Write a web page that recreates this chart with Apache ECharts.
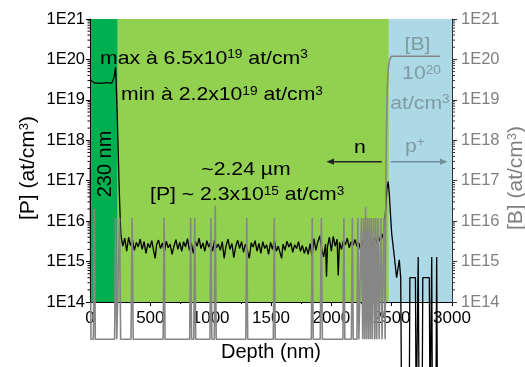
<!DOCTYPE html>
<html><head><meta charset="utf-8">
<script src="https://cdn.jsdelivr.net/npm/echarts@6/dist/echarts.min.js"></script>
<style>html,body{margin:0;padding:0;background:#fff}#c{width:525px;height:367px}</style>
</head><body><div id="c"></div>
<script>
const FONT = '"Liberation Sans", Arial, sans-serif';
const xTicks = [0, 500, 1000, 1500, 2000, 2500, 3000];
const yTickLabels = ['1E14','1E15','1E16','1E17','1E18','1E19','1E20','1E21'];
const regionStart = [0, 230, 2477];
const regionEnd = [230, 2477, 3000];
const regionColors = ['#00b050', '#92d050', '#add8e6'];

// [P] profile: [depth nm, at/cm3]
const pProfile = [
[0,3.2e19],[10,3.0e19],[20,2.85e19],[30,2.7e19],[40,2.6e19],[50,2.5e19],[60,2.6e19],[70,2.7e19],[80,2.55e19],[90,2.45e19],
[100,2.6e19],[110,2.8e19],[120,2.6e19],[130,2.5e19],[140,2.7e19],[150,2.8e19],[160,2.6e19],[170,2.7e19],[180,2.6e19],[190,2.9e19],
[198,3.5e19],[205,4.5e19],[212,6.5e19],[220,1.5e19],[226,4e18],[240,1e17],[250,1.2e16],
[256,4.6e15],[272,2.4e15],[288,3.8e15],[304,1.8e15],[320,4.0e15],[336,2.5e15],[352,3.4e15],[368,1.9e15],[384,3.0e15],[400,2.3e15],
[416,3.6e15],[432,2.0e15],[448,3.1e15],[464,1.6e15],[480,2.8e15],[496,2.2e15],[512,3.3e15],[528,1.8e15],[540,1.2e15],[552,2.6e15],
[568,3.4e15],[584,2.1e15],[600,2.9e15],[616,1.7e15],[632,3.2e15],[648,2.2e15],[664,2.7e15],[680,1.5e15],[696,2.4e15],[712,3.5e15],
[728,2.0e15],[744,3.0e15],[760,1.8e15],[776,3.1e15],[792,2.3e15],[808,3.7e15],[824,1.9e15],[840,2.8e15],[856,1.6e15],[872,3.2e15],
[888,2.4e15],[904,3.8e15],[920,2.1e15],[936,2.9e15],[952,1.8e15],[968,3.3e15],[984,2.3e15],[1000,3.0e15],[1016,1.8e15],[1032,3.4e15],
[1048,2.2e15],[1064,2.7e15],[1080,1.9e15],[1096,3.1e15],[1112,1.2e15],[1128,2.5e15],[1144,3.6e15],[1160,2.0e15],[1176,2.8e15],[1192,1.25e15],
[1208,2.4e15],[1224,3.4e15],[1240,2.1e15],[1256,3.1e15],[1272,1.7e15],[1288,2.7e15],[1304,1.9e15],[1320,1.2e15],[1336,2.9e15],[1352,2.3e15],
[1368,3.3e15],[1384,1.8e15],[1400,2.8e15],[1416,1.6e15],[1432,3.1e15],[1448,2.1e15],[1464,2.6e15],[1480,1.5e15],[1496,3.0e15],[1512,2.0e15],
[1528,3.4e15],[1544,1.8e15],[1560,2.4e15],[1576,2.2e15],[1588,1.2e15],[1600,2.7e15],[1616,1.9e15],[1632,3.2e15],[1648,2.3e15],[1664,2.9e15],
[1680,1.7e15],[1696,2.6e15],[1712,2.1e15],[1728,3.1e15],[1744,1.8e15],[1760,2.5e15],[1776,1.6e15],[1792,2.3e15],[1808,1.5e15],[1824,2.8e15],
[1840,1.3e15],[1856,3.7e15],[1872,1.9e15],[1888,3.1e15],[1904,4.3e15],[1920,2.1e15],[1936,1.3e15],[1952,2.7e15],[1960,4.2e14],[1968,2.3e15],
[1984,4.0e15],[2000,1.8e15],[2016,4.2e15],[2032,2.4e15],[2048,3.6e15],[2057,4.5e14],[2068,3.0e15],[2084,2.0e15],[2100,3.3e15],[2116,2.6e15],
[2132,3.8e15],[2148,2.2e15],[2164,3.1e15],[2180,2.5e15],[2196,3.5e15],[2212,2.4e15],[2228,2.9e15],[2244,1.9e15],[2260,3.2e15],[2276,2.1e15],
[2292,2.7e15],[2308,2.3e15],[2324,3.4e15],[2340,2.5e15],[2356,3.8e15],[2372,2.8e15],[2388,4.3e15],[2404,3.2e15],[2420,4.8e15],[2432,3.6e15],
[2444,9e15],[2452,2.5e16],[2460,6e16],[2471,9.5e16],[2480,5e16],[2490,1.5e16],[2500,5e15],[2520,1.5e15],[2541,4e14],[2563,1.1e15],
[2575,4e14],[2583,1e11],[2645,1e11],[2651,4e14],[2697,4e14],[2703,1e11],[2714,1e11],[2720,1.3e15],[2728,1e11],[2752,1e11],
[2758,4e14],[2812,4e14],[2818,1e11],[2826,1e11],[2832,1.3e15],[2838,1e11],[2866,1e11],[2873,1.3e15],[2880,1e11]
];

// [B] profile: [depth nm, at/cm3]
const bProfile = [
[0,2.8e17],[8,1.2e13],[28,1.2e13],[36,2e16],[44,1.2e13],[204,1.2e13],[212,1.2e16],[222,1.2e13],[236,1.2e13],[245,1.2e16],
[254,1.2e13],[340,1.2e13],[349,1.2e16],[358,1.2e13],[606,1.2e13],[614,1.2e16],[622,1.2e13],[826,1.2e13],[834,1.2e16],[842,1.2e13],
[860,1.2e13],[868,1.2e16],[876,1.2e13],[994,1.2e13],[1002,1.2e16],[1010,1.2e13],[1030,1.2e13],[1038,2.4e16],[1046,1.2e13],[1291,1.2e13],
[1299,1.2e16],[1307,1.2e13],[1519,1.2e13],[1527,1.2e16],[1535,1.2e13],[1834,1.2e13],[1842,1.2e16],[1850,1.2e13],[1908,1.2e13],[1917,1.2e16],
[1926,1.2e13],[2096,1.2e13],[2104,1.2e16],[2112,1.2e13],[2166,1.2e13],[2174,1.2e16],[2182,1.2e13],[2212,1.2e13],[2220,1.2e16],[2228,1.2e13],
[2240,1.2e13],[2250,1.2e16],[2260,1.2e13],[2268,1.2e16],[2276,1.2e13],[2284,2.2e16],[2292,1.2e13],[2300,1.2e16],[2308,1.2e13],[2316,1.2e16],
[2324,1.2e13],[2332,1.2e16],[2340,1.2e13],[2350,1.2e16],[2360,1.2e13],[2368,1.2e16],[2376,1.2e13],[2386,1.2e16],[2396,1.2e13],[2410,1.2e16],
[2420,1.2e13],[2436,1.2e16],[2446,1.2e13],[2452,1e17],[2458,3e18],[2464,2e19],[2472,6e19],[2484,1e20],[2500,1.2e20],[2600,1.2e20],
[2700,1.2e20],[2900,1.2e20]
];

const minorFactors = [2,3,4,5,6,7,8,9];
const decades = [14,15,16,17,18,19,20];

const minorVals = [];
decades.forEach(d => minorFactors.forEach(f => minorVals.push(f * Math.pow(10, d))));

const chart = echarts.init(document.getElementById('c'), null, {renderer: 'canvas'});

function tickLabel(v) {
  const e = Math.round(Math.log10(v));
  return yTickLabels[e - 14] || '';
}

const supRich = (size, supSize, color) => ({
  n: {fontSize: size, fontFamily: FONT, fill: color},
  s: {fontSize: supSize, fontFamily: FONT, fill: color, verticalAlign: 'top'}
});

const annRich = supRich(18.6, 12, '#000');
const bRich = supRich(18.6, 12, '#7f9ba3');

function ann(x, y, text, rich, align, color) {
  return {
    type: 'text', x: x, y: y, scaleX: 1.14, z: 50,
    style: {text: text, rich: rich, align: align || 'left', verticalAlign: 'middle', fill: color || '#000', font: '18.6px ' + FONT}
  };
}

const option = {
  animation: false,
  backgroundColor: '#fff',
  grid: {left: 90, right: 73, top: 19, bottom: 57},
  xAxis: {
    type: 'value', min: xTicks[0], max: xTicks[xTicks.length - 1], interval: 500, z: 3,
    axisLine: {show: true, lineStyle: {color: '#000', width: 1}},
    axisTick: {show: true, inside: false, length: 4, lineStyle: {color: '#000'}},
    minorTick: {show: true, splitNumber: 2, length: 2, lineStyle: {color: '#000'}},
    splitLine: {show: false},
    axisLabel: {fontFamily: FONT, fontSize: 17, color: '#000', margin: 8,
      formatter: v => xTicks.includes(v) ? String(v) : ''},
    name: 'Depth (nm)', nameLocation: 'middle', nameGap: 40,
    nameTextStyle: {fontFamily: FONT, fontSize: 20, color: '#000'}
  },
  yAxis: [
    {
      type: 'log', logBase: 10, min: 1e14, max: 1e21, splitNumber: 7, z: 5,
      axisLine: {show: true, lineStyle: {color: '#000'}},
      axisTick: {show: true, inside: false, length: 4, lineStyle: {color: '#000'}},
      splitLine: {show: false},
      axisLabel: {fontFamily: FONT, fontSize: 16.5, color: '#000', margin: 5, formatter: tickLabel}
    },
    {
      type: 'log', logBase: 10, min: 1e14, max: 1e21, splitNumber: 7, position: 'right', z: 5,
      axisLine: {show: true, lineStyle: {color: '#333'}},
      axisTick: {show: true, inside: false, length: 5, lineStyle: {color: '#333'}},
      splitLine: {show: false},
      axisLabel: {fontFamily: FONT, fontSize: 16.5, color: '#808080', margin: 9, formatter: tickLabel}
    }
  ],
  series: [
    {
      type: 'line', name: 'bg', data: [], z: 1, silent: true,
      markArea: {
        silent: true,
        data: regionStart.map((s, i) => [
          {xAxis: s, itemStyle: {color: regionColors[i], opacity: 1}},
          {xAxis: regionEnd[i]}
        ])
      }
    },
    {
      type: 'line', name: '[P]', data: pProfile, z: 3, clip: false, showSymbol: false, symbol: 'none',
      lineStyle: {color: '#000', width: 1.3}
    },
    {
      type: 'line', name: '[B]', data: bProfile, z: 4, clip: false, showSymbol: false, symbol: 'none',
      lineStyle: {color: '#868686', width: 1.6}
    },
    {
      type: 'custom', name: 'minorL', z: 6, clip: false, silent: true,
      data: minorVals.map(v => [xTicks[0], v]),
      encode: {x: 0, y: 1},
      renderItem: (params, api) => {
        const p = api.coord([api.value(0), api.value(1)]);
        return {type: 'line', shape: {x1: p[0] - 2.5, y1: p[1], x2: p[0], y2: p[1]}, style: {stroke: '#000', lineWidth: 1}};
      }
    },
    {
      type: 'custom', name: 'minorR', z: 6, clip: false, silent: true,
      data: minorVals.map(v => [xTicks[xTicks.length - 1], v]),
      encode: {x: 0, y: 1},
      renderItem: (params, api) => {
        const p = api.coord([api.value(0), api.value(1)]);
        return {type: 'line', shape: {x1: p[0], y1: p[1], x2: p[0] + 3, y2: p[1]}, style: {stroke: '#333', lineWidth: 1}};
      }
    }
  ],
  graphic: [
    ann(100, 58.5, '{n|max à 6.5x10}{s|19}{n| at/cm}{s|3}', annRich),
    ann(121, 95, '{n|min à 2.2x10}{s|19}{n| at/cm}{s|3}', annRich),
    ann(246, 170, '{n|~2.24 µm}', annRich, 'center'),
    ann(150, 195, '{n|[P] ~ 2.3x10}{s|15}{n| at/cm}{s|3}', annRich),
    ann(360, 148, '{n|n}', annRich, 'center'),
    ann(405, 146.5, '{n|p}{s|+}', bRich, 'left', '#7f9ba3'),
    ann(417.5, 45, '{n|[B]}', bRich, 'center', '#7f9ba3'),
    ann(421.5, 74, '{n|10}{s|20}', bRich, 'center', '#7f9ba3'),
    ann(420, 103.5, '{n|at/cm}{s|3}', bRich, 'center', '#7f9ba3'),
    {
      type: 'text', x: 105, y: 164, rotation: Math.PI / 2, z: 50,
      style: {text: '230 nm', align: 'center', verticalAlign: 'middle', fill: '#000', font: '20px ' + FONT}
    },
    {
      type: 'text', x: 28, y: 168, rotation: Math.PI / 2, z: 50,
      style: {text: '{n|[P] (at/cm}{s|3}{n|)}', rich: supRich(21, 13, '#000'), align: 'center', verticalAlign: 'middle', fill: '#000', font: '21px ' + FONT}
    },
    {
      type: 'text', x: 516, y: 178, rotation: Math.PI / 2, z: 50,
      style: {text: '{n|[B] (at/cm}{s|3}{n|)}', rich: supRich(21, 13, '#808080'), align: 'center', verticalAlign: 'middle', fill: '#808080', font: '21px ' + FONT}
    },
    {type: 'line', z: 50, shape: {x1: 381.7, y1: 161.7, x2: 331, y2: 161.7}, style: {stroke: '#222', lineWidth: 1.4}},
    {type: 'polygon', z: 50, shape: {points: [[326.5, 161.7], [334, 158.6], [334, 164.8]]}, style: {fill: '#222'}},
    {type: 'line', z: 50, shape: {x1: 390.7, y1: 161.7, x2: 442, y2: 161.7}, style: {stroke: '#6f8f98', lineWidth: 1.4}},
    {type: 'polygon', z: 50, shape: {points: [[447.5, 161.7], [440, 158.6], [440, 164.8]]}, style: {fill: '#6f8f98'}}
  ]
};
chart.setOption(option);
</script></body></html>
